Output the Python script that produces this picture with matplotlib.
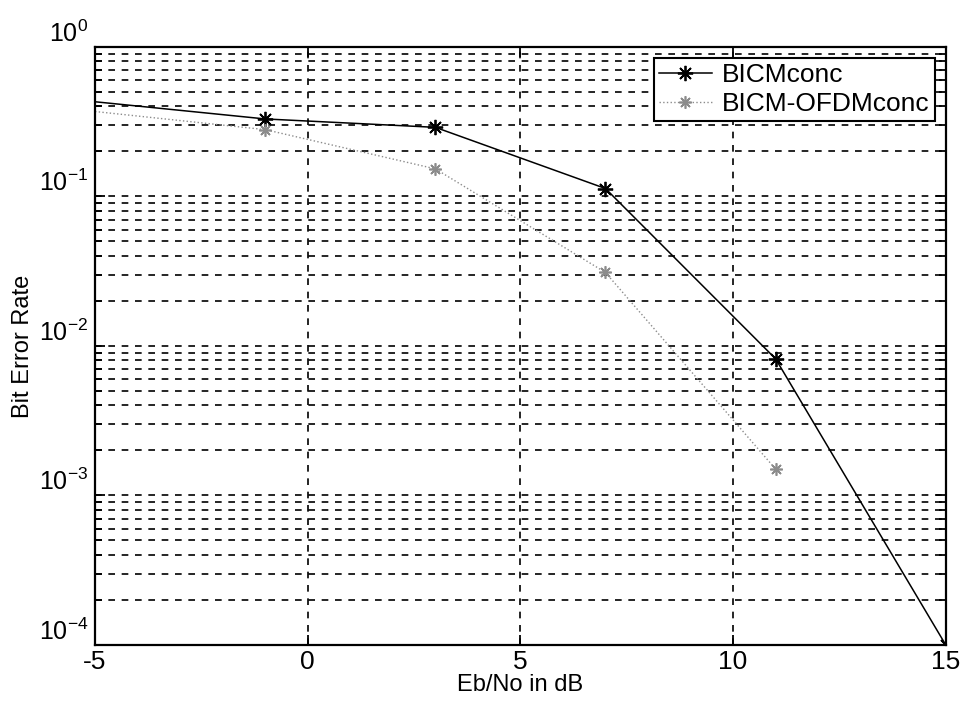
import numpy as np
import matplotlib.pyplot as plt
from matplotlib.ticker import LogLocator, FixedLocator, NullFormatter, FuncFormatter

plt.rcParams['font.family'] = ['Liberation Sans', 'DejaVu Sans']
plt.rcParams['mathtext.fontset'] = 'custom'
plt.rcParams['mathtext.rm'] = 'Liberation Sans'
plt.rcParams['axes.unicode_minus'] = False

# values
snr_bicm = [-5, -1, 3, 7, 11, 15]
ber_bicm = [0.43, 0.33, 0.29, 0.113, 0.0082, 1.0e-4]
snr_ofdm = [-5, -1, 3, 7, 11]
ber_ofdm = [0.37, 0.28, 0.153, 0.031, 0.0015]
x_ticks = [-5, 0, 5, 10, 15]


def decade_label(v, pos):
    return '10$^{\\mathdefault{%d}}$' % int(round(np.log10(v)))


fig = plt.figure(figsize=(9.7, 7.01), dpi=100)
ax = fig.add_axes([0.098, 0.08, 0.877, 0.853])

ax.semilogy(snr_bicm, ber_bicm, color='black', lw=1.1,
            marker=(8, 2, 0), ms=11, mew=1.3, markevery=slice(1, None),
            label='BICMconc')
ax.semilogy(snr_ofdm, ber_ofdm, color='#8c8c8c', lw=1.0, ls=':',
            marker=(8, 2, 0), ms=9, mew=1.2, markevery=slice(1, None),
            label='BICM-OFDMconc')

ax.set_xlim(-5, 15)
ax.set_ylim(1e-4, 1)
ax.xaxis.set_major_locator(FixedLocator(x_ticks))
ax.yaxis.set_major_locator(LogLocator(base=10, numticks=10))
ax.yaxis.set_minor_locator(LogLocator(base=10, subs=np.arange(2, 10), numticks=20))
ax.yaxis.set_minor_formatter(NullFormatter())
ax.yaxis.set_major_formatter(FuncFormatter(decade_label))

# dashed grid, major + minor on y
grid_style = dict(color='black', linestyle=(0, (4, 4)), linewidth=1.2)
ax.grid(True, which='major', axis='both', **grid_style)
ax.grid(True, which='minor', axis='y', **grid_style)

ax.tick_params(which='both', direction='in', top=True, right=True, width=1.3)
ax.tick_params(which='major', length=7)
ax.tick_params(which='minor', length=5)
ax.tick_params(axis='x', pad=4, labelsize=19)
ax.tick_params(axis='y', pad=5, labelsize=18)
for lbl in ax.get_yticklabels():
    lbl.set_va('bottom')
for s in ax.spines.values():
    s.set_linewidth(1.6)

ax.set_xlabel('Eb/No in dB', fontsize=17, labelpad=0)
ax.set_ylabel('Bit Error Rate', fontsize=17)
ax.yaxis.set_label_coords(-0.072, 0.5)

leg = ax.legend(loc='upper right', fontsize=19, fancybox=False,
                edgecolor='black', framealpha=1, handlelength=2.0,
                borderpad=0.2, labelspacing=0.2, handletextpad=0.4,
                borderaxespad=0.4)
leg.get_frame().set_linewidth(1.5)

fig.savefig('out.png', dpi=100)
